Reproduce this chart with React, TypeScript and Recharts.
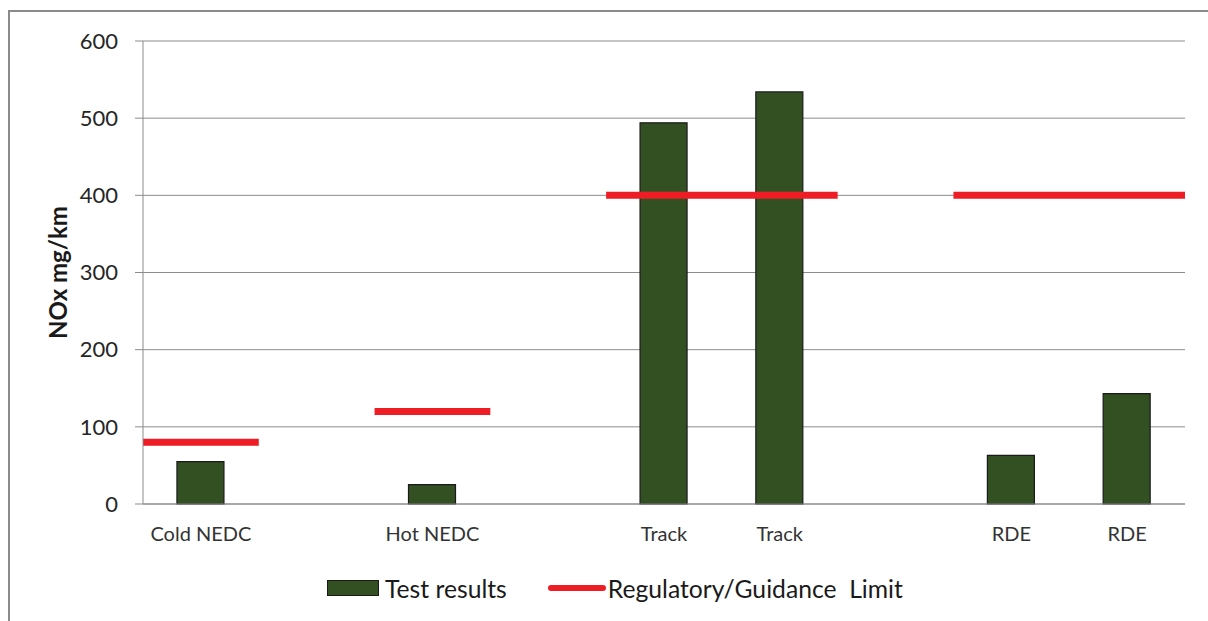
import React from "react";
import { ComposedChart, Bar, Line, XAxis, YAxis, CartesianGrid, Legend } from "recharts";

// one slot per x position, blank names are the gaps between test groups
const categories = ["Cold NEDC", "", "Hot NEDC", "", "Track", "Track", "", "RDE", "RDE"];
const testResults = [55, null, 25, null, 494, 534, null, 63, 143];
const limits = [80, null, 120, null, 400, 400, null, 400, 400];
const yTicks = [0, 100, 200, 300, 400, 500, 600];

const BAR_COLOR = "#335022";
const LIMIT_COLOR = "#ee1c25";
const GRID = "#8c8c8c";

// bars sit in the middle of their slot on a numeric x axis
const barData = categories
  .map((name, i) => ({ x: i + 0.5, name, result: testResults[i] }))
  .filter((d) => d.result != null);

// limit lines run across the whole slot(s) they cover, broken by nulls
const limitData: { x: number; limit: number | null }[] = [];
for (let i = 0; i < limits.length; ) {
  const v = limits[i];
  if (v == null) {
    i++;
    continue;
  }
  let j = i;
  while (j + 1 < limits.length && limits[j + 1] === v) j++;
  if (limitData.length > 0) limitData.push({ x: i - 0.5, limit: null });
  limitData.push({ x: i, limit: v }, { x: j + 1, limit: v });
  i = j + 1;
}

const tickPositions = categories.map((_, i) => i + 0.5);

const LegendBox = () => (
  <div
    style={{
      height: 30,
      display: "flex",
      alignItems: "center",
      paddingLeft: 327,
      fontFamily: "Lato",
      fontSize: 24.7,
      color: "#1a1a1a",
    }}
  >
    <span
      style={{
        display: "inline-block",
        width: 52,
        height: 16,
        background: BAR_COLOR,
        border: "1px solid #1a1a1a",
        boxSizing: "border-box",
        marginRight: 6,
      }}
    />
    <span>Test results</span>
    <span
      style={{
        display: "inline-block",
        width: 58,
        height: 6,
        background: LIMIT_COLOR,
        borderRadius: 3,
        marginLeft: 41,
        marginRight: 2,
      }}
    />
    <span style={{ whiteSpace: "pre" }}>Regulatory/Guidance  Limit</span>
  </div>
);

const App = () => {
  return (
    <div style={{ position: "absolute", left: 0, top: 0, width: 1208, height: 621, background: "#fff" }}>
      {/* outer frame */}
      <div
        style={{
          position: "absolute",
          left: 8,
          top: 10,
          width: 1200,
          height: 611,
          borderLeft: "2px solid #8a8a8a",
          borderTop: "2px solid #8a8a8a",
          boxSizing: "border-box",
        }}
      />
      <div style={{ position: "absolute", left: 0, top: 0 }}>
        <ComposedChart
          width={1208}
          height={621}
          data={barData}
          margin={{ top: 41, right: 23, left: 0, bottom: 18 }}
          style={{ fontFamily: "Lato" }}
        >
          <CartesianGrid vertical={false} stroke={GRID} strokeDasharray="" />
          <XAxis
            type="number"
            dataKey="x"
            domain={[0, 9]}
            ticks={tickPositions}
            interval={0}
            tickFormatter={(v: number) => categories[Math.floor(v)]}
            tickLine={false}
            tickSize={0}
            tickMargin={23}
            height={69}
            axisLine={{ stroke: GRID }}
            tick={{ fill: "#333333", fontSize: 20 }}
          />
          <YAxis
            domain={[0, 600]}
            ticks={yTicks}
            width={143}
            tickSize={8}
            tickMargin={17}
            axisLine={{ stroke: GRID }}
            tickLine={{ stroke: GRID }}
            tick={{ fill: "#262626", fontSize: 22 }}
            label={({ viewBox }: any) => (
              <text
                x={57}
                y={viewBox.y + viewBox.height / 2}
                transform={`rotate(-90, 57, ${viewBox.y + viewBox.height / 2})`}
                textAnchor="middle"
                dominantBaseline="central"
                fontFamily="Lato"
                fontWeight="bold"
                fontSize={24}
                fill="#1a1a1a"
              >
                NOx mg/km
              </text>
            )}
          />
          <Legend verticalAlign="bottom" content={() => <LegendBox />} wrapperStyle={{ left: 0 }} />
          <Bar
            dataKey="result"
            name="Test results"
            barSize={47}
            fill={BAR_COLOR}
            stroke="#1a1a1a"
            strokeWidth={1.2}
            isAnimationActive={false}
          />
          <Line
            data={limitData}
            dataKey="limit"
            name="Regulatory/Guidance  Limit"
            stroke={LIMIT_COLOR}
            strokeWidth={7}
            dot={false}
            activeDot={false}
            isAnimationActive={false}
          />
        </ComposedChart>
      </div>
    </div>
  );
};

export default App;
